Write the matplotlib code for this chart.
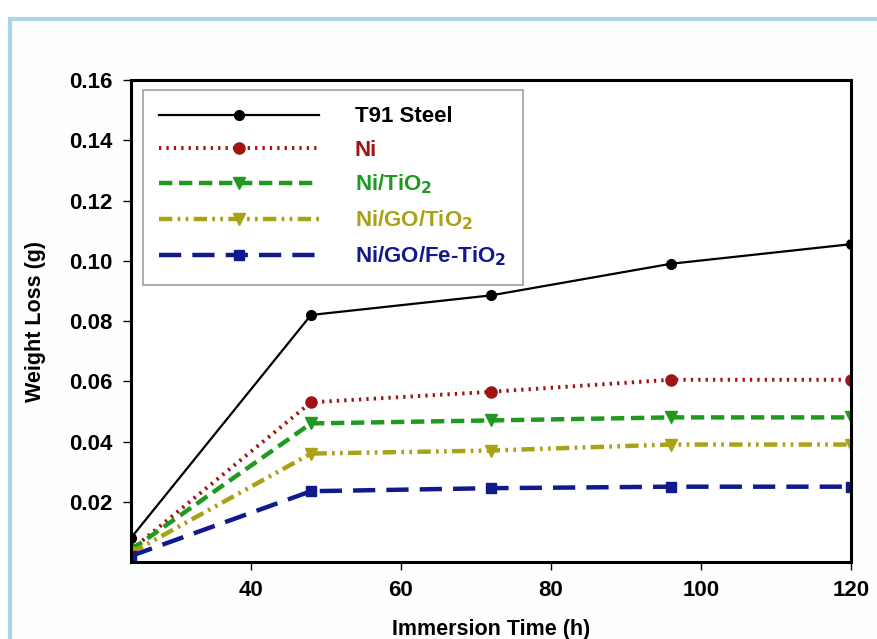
import matplotlib.pyplot as plt
from matplotlib.patches import Rectangle

plt.rcParams['font.family'] = ['Liberation Sans', 'DejaVu Sans']
plt.rcParams['font.weight'] = 'bold'
plt.rcParams['mathtext.default'] = 'bf'

time_h = [24, 48, 72, 96, 120]
t91 = [0.008, 0.082, 0.0885, 0.099, 0.1055]
ni = [0.004, 0.053, 0.0565, 0.0605, 0.0605]
ni_tio2 = [0.004, 0.046, 0.047, 0.048, 0.048]
ni_go_tio2 = [0.003, 0.036, 0.037, 0.039, 0.039]
ni_go_fe_tio2 = [0.002, 0.0235, 0.0245, 0.025, 0.025]

labels = ["T91 Steel", "Ni", "Ni/TiO$_2$", "Ni/GO/TiO$_2$", "Ni/GO/Fe-TiO$_2$"]
colors = ["black", "#a01414", "#1f9a1f", "#aaa214", "#101a8c"]

fig = plt.figure(figsize=(8.77, 6.39), dpi=100)
ax = fig.add_axes([0.1494, 0.1205, 0.8209, 0.7543])

# light blue frame of the figure panel
fig.patches.append(Rectangle((0.011, -0.05), 1.2, 1.02, transform=fig.transFigure,
                             fill=True, facecolor="#fdfefe", edgecolor="#a9d5e6", lw=3, zorder=-1))

ax.plot(time_h, t91, color=colors[0], lw=1.6, marker="o", ms=7, label=labels[0])
ax.plot(time_h, ni, color=colors[1], lw=2.8, ls=(0, (0.6, 1.3)), marker="o", ms=8, label=labels[1])
ax.plot(time_h, ni_tio2, color=colors[2], lw=3.2, ls=(0, (3, 1.5)), marker="v", ms=8, label=labels[2])
ax.plot(time_h, ni_go_tio2, color=colors[3], lw=3.2, ls=(0, (3, 1.2, 0.6, 1.2, 0.6, 1.2)), marker="v", ms=8, label=labels[3])
ax.plot(time_h, ni_go_fe_tio2, color=colors[4], lw=3.2, ls=(0, (5, 2.5)), marker="s", ms=7, label=labels[4])

ax.set_xlim(24, 120)
ax.set_ylim(0, 0.16)
ax.set_xticks([40, 60, 80, 100, 120])
ax.set_yticks([0.02, 0.04, 0.06, 0.08, 0.10, 0.12, 0.14, 0.16])
ax.set_yticklabels(["0.02", "0.04", "0.06", "0.08", "0.10", "0.12", "0.14", "0.16"])
ax.tick_params(direction="out", length=6, width=1, labelsize=16, pad=7)
for s in ax.spines.values():
    s.set_linewidth(2.2)

ax.set_xlabel("Immersion Time (h)", fontsize=15.5, fontweight="bold", labelpad=13)
ax.set_ylabel("Weight Loss (g)", fontsize=15.5, fontweight="bold", labelpad=17)

leg = ax.legend(loc="upper left", bbox_to_anchor=(0.016, 0.98), handlelength=7.2,
                fontsize=16, frameon=True, fancybox=False, edgecolor="#888888",
                borderpad=0.75, labelspacing=0.55, handletextpad=1.6, borderaxespad=0)
leg.get_frame().set_linewidth(1.2)
for txt, c in zip(leg.get_texts(), colors):
    txt.set_color(c)

plt.savefig("out.png", dpi=100)
